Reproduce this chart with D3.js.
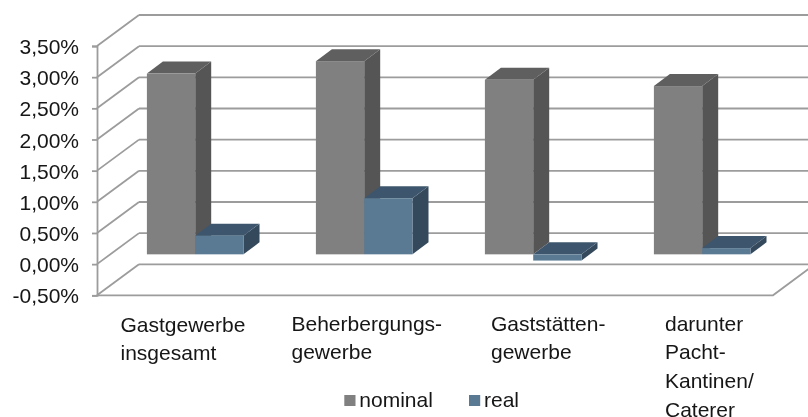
<!DOCTYPE html>
<html>
<head>
<meta charset="utf-8">
<script src="https://cdn.jsdelivr.net/npm/d3@7"></script>
<style>
html, body { margin: 0; padding: 0; background: #fff; }
svg { display: block; }
text { font-family: "Liberation Sans", Arial, sans-serif; font-size: 21px; fill: #151515; }
</style>
</head>
<body>
<div class="container"></div>
<script>
const categories = [
    ['Gastgewerbe', 'insgesamt'],
    ['Beherbergungs-', 'gewerbe'],
    ['Gaststätten-', 'gewerbe'],
    ['darunter', 'Pacht-', 'Kantinen/', 'Caterer']
];
const nominal = [2.9, 3.1, 2.8, 2.7];
const real = [0.3, 0.9, -0.1, 0.1];
const ticks = [-0.5, 0, 0.5, 1, 1.5, 2, 2.5, 3, 3.5];
const seriesNames = ['nominal', 'real'];

const WIDTH = 808;
const HEIGHT = 417;
const LEFT = 97;
const RIGHT = 773;
const TOP = 46;
const BOTTOM = 295.3;
const DEPTH_X = 42;
const DEPTH_Y = -31;
const BAR_OFF_X = 13.7;
const BAR_OFF_Y = -9.8;
const BAR_DEPTH_X = 16;
const BAR_DEPTH_Y = -12;
const BAR_WIDTH = 48.3;
const GROUP_PAD = 36.2;
const GRID = '#9c9c9c';
const LINE_GAP = 28.7;

// label left edge relative to its band, the source text boxes are not centred evenly
const labelOffset = [23.5, 25.5, 56, 61];
const labelTop = [331.5, 330.7, 330.5, 330.7];

const palette = {
    nominal: {front: '#808080', side: '#555555', top: '#5f5f5f'},
    real: {front: '#5a7a93', side: '#35495c', top: '#3d566d'}
};

const xScale = d3.scaleBand()
    .domain(d3.range(categories.length))
    .range([LEFT, RIGHT]);

const yScale = d3.scaleLinear()
    .domain([-0.5, 3.5])
    .range([BOTTOM, TOP]);

const fmt = d => d.toFixed(2).replace('.', ',') + '%';

const svg = d3.select('.container').append('svg')
    .attr('width', WIDTH)
    .attr('height', HEIGHT);

const defs = svg.append('defs');
defs.append('filter').attr('id', 'soft')
    .append('feGaussianBlur').attr('stdDeviation', 0.45);
defs.append('filter').attr('id', 'softText')
    .append('feGaussianBlur').attr('stdDeviation', 0.3);

const plot = svg.append('g').attr('filter', 'url(#soft)');

// back wall gridlines and the left wall diagonals
plot.append('g').selectAll('line.grid')
    .data(ticks)
    .enter().append('line')
    .attr('x1', LEFT + DEPTH_X)
    .attr('x2', WIDTH)
    .attr('y1', d => yScale(d) + DEPTH_Y)
    .attr('y2', d => yScale(d) + DEPTH_Y)
    .attr('stroke', GRID)
    .attr('stroke-width', 1.8);

plot.append('g').selectAll('line.diag')
    .data(ticks)
    .enter().append('line')
    .attr('x1', LEFT)
    .attr('x2', LEFT + DEPTH_X)
    .attr('y1', d => yScale(d))
    .attr('y2', d => yScale(d) + DEPTH_Y)
    .attr('stroke', GRID)
    .attr('stroke-width', 1.8);

// floor front and right edge
plot.append('path')
    .attr('d', `M${LEFT},${yScale(-0.5)}L${RIGHT},${yScale(-0.5)}L${RIGHT + DEPTH_X},${yScale(-0.5) + DEPTH_Y}`)
    .attr('fill', 'none')
    .attr('stroke', GRID)
    .attr('stroke-width', 1.8);

// value axis
const yAxis = d3.axisLeft(yScale)
    .tickValues(ticks)
    .tickFormat(fmt)
    .tickSize(5)
    .tickPadding(13);

const axisG = svg.append('g')
    .attr('transform', `translate(${LEFT},0)`)
    .attr('filter', 'url(#soft)')
    .call(yAxis);
axisG.select('.domain').attr('stroke', GRID).attr('stroke-width', 1.8);
axisG.selectAll('line').attr('stroke', GRID).attr('stroke-width', 1.8);
axisG.selectAll('text').style('font-size', '21px').attr('fill', '#151515')
    .attr('dy', '0.36em');

// one 3d bar: front, top and side face
const drawBar = function (g, x, value, colors) {
    const yHi = yScale(Math.max(value, 0)) + BAR_OFF_Y;
    const yLo = yScale(Math.min(value, 0)) + BAR_OFF_Y;
    const x0 = x + BAR_OFF_X;
    const x1 = x0 + BAR_WIDTH;

    g.append('path')
        .attr('d', `M${x1},${yHi}L${x1 + BAR_DEPTH_X},${yHi + BAR_DEPTH_Y}L${x1 + BAR_DEPTH_X},${yLo + BAR_DEPTH_Y}L${x1},${yLo}Z`)
        .attr('fill', colors.side);
    g.append('path')
        .attr('d', `M${x0},${yHi}L${x0 + BAR_DEPTH_X},${yHi + BAR_DEPTH_Y}L${x1 + BAR_DEPTH_X},${yHi + BAR_DEPTH_Y}L${x1},${yHi}Z`)
        .attr('fill', colors.top);
    g.append('rect')
        .attr('x', x0)
        .attr('y', yHi)
        .attr('width', BAR_WIDTH)
        .attr('height', yLo - yHi)
        .attr('fill', colors.front);
};

categories.forEach((c, i) => {
    const g = plot.append('g');
    const x = xScale(i) + GROUP_PAD;
    drawBar(g, x, nominal[i], palette.nominal);
    drawBar(g, x + BAR_WIDTH, real[i], palette.real);
});

// category labels
const labels = svg.append('g').attr('filter', 'url(#softText)');
categories.forEach((lines, i) => {
    const t = labels.append('text')
        .attr('x', xScale(i) + labelOffset[i])
        .attr('y', labelTop[i]);
    lines.forEach((line, j) => {
        t.append('tspan')
            .attr('x', xScale(i) + labelOffset[i])
            .attr('dy', j === 0 ? 0 : LINE_GAP)
            .text(line);
    });
});

// legend
const legendX = [344.3, 469];
seriesNames.forEach((name, i) => {
    svg.append('rect')
        .attr('x', legendX[i])
        .attr('y', 395)
        .attr('width', 11.2)
        .attr('height', 11)
        .attr('fill', palette[name].front);
    labels.append('text')
        .attr('x', legendX[i] + 15)
        .attr('y', 406.7)
        .text(name);
});
</script>
</body>
</html>
